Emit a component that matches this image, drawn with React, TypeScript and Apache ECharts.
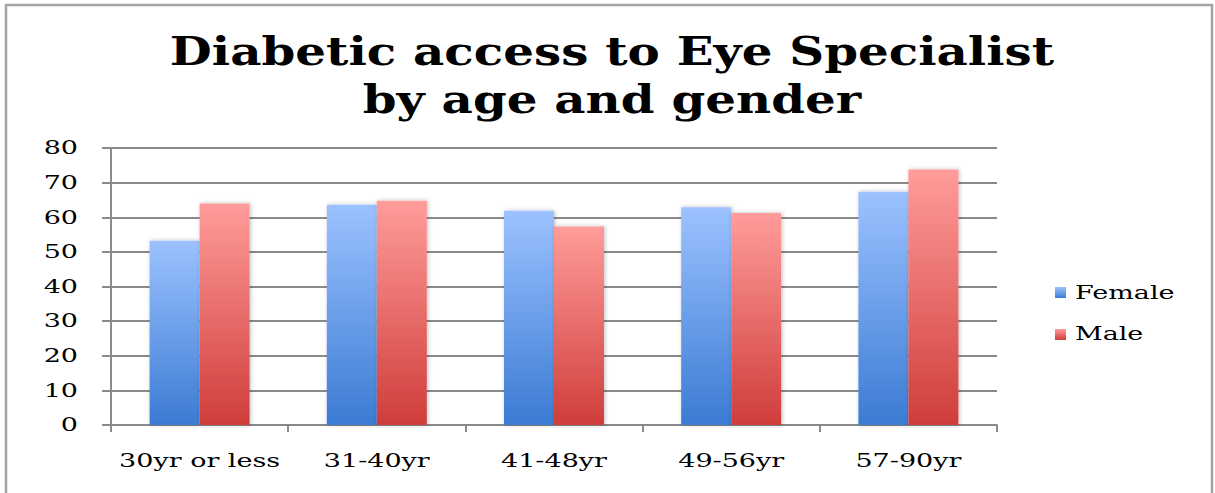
import React, { useEffect, useRef } from "react";
import * as echarts from "echarts";

const categories = ["30yr or less", "31-40yr", "41-48yr", "49-56yr", "57-90yr"];
const seriesNames = ["Female", "Male"];
const female = [53.2, 63.6, 61.9, 62.9, 67.4];
const male = [64.0, 64.8, 57.3, 61.2, 73.8];
const yTicks = [0, 10, 20, 30, 40, 50, 60, 70, 80];
const titleLines = ["Diabetic access to Eye Specialist", "by age and gender"];

export default function App() {
  const ref = useRef<HTMLDivElement>(null);
  useEffect(() => {
    const chart = echarts.init(ref.current!, null, { renderer: "svg" });
    const grad = (top: string, bottom: string) =>
      new echarts.graphic.LinearGradient(0, 0, 0, 1, [
        { offset: 0, color: top },
        { offset: 1, color: bottom },
      ]);
    const serif = "DejaVu Serif";
    const titleStyle = {
      font: `bold 39px "${serif}"`,
      fill: "#000",
      align: "center",
      verticalAlign: "middle",
    };
    const baseGraphic: any[] = [
      {
        type: "rect",
        shape: { x: 6, y: 5, width: 1206, height: 520 },
        style: { fill: "none", stroke: "#a3a3a3", lineWidth: 2.5 },
        silent: true,
      },
      {
        type: "text",
        x: 612,
        y: 51.5,
        scaleX: 1.24,
        style: { ...titleStyle, text: titleLines[0] },
      },
      {
        type: "text",
        x: 612,
        y: 99.5,
        scaleX: 1.24,
        style: { ...titleStyle, text: titleLines[1] },
      },
    ];
    chart.setOption({
      animation: false,
      backgroundColor: "#ffffff",
      graphic: baseGraphic,
      legend: {
        orient: "vertical",
        left: 1050,
        top: 282,
        itemWidth: 11,
        itemHeight: 11,
        itemGap: 31,
        icon: "rect",
        formatter: () => "",
        textStyle: { fontSize: 11 },
        data: seriesNames,
      },
      grid: { left: 111, right: 218, top: 148, bottom: 68 },
      xAxis: {
        type: "category",
        data: categories,
        axisLine: { lineStyle: { color: "#8a8a8a", width: 2 } },
        axisTick: { show: true, length: 7, lineStyle: { color: "#8a8a8a", width: 2 } },
        axisLabel: { show: false },
      },
      yAxis: {
        type: "value",
        min: 0,
        max: 80,
        interval: 10,
        axisLine: { show: true, lineStyle: { color: "#8a8a8a", width: 2 } },
        axisTick: { show: true, length: 9, lineStyle: { color: "#8a8a8a", width: 2 } },
        splitLine: { lineStyle: { color: "#8a8a8a", width: 2 } },
        axisLabel: { show: false },
      },
      series: [
        {
          name: seriesNames[0],
          type: "bar",
          data: female,
          barWidth: 50,
          barGap: "0%",
          itemStyle: {
            color: grad("#9cc2ff", "#3b7bd3"),
            shadowColor: "rgba(0,0,0,0.25)",
            shadowBlur: 4,
            shadowOffsetX: 1,
          },
        },
        {
          name: seriesNames[1],
          type: "bar",
          data: male,
          barWidth: 50,
          barGap: "0%",
          itemStyle: {
            color: grad("#ff9c9a", "#cf3d3a"),
            shadowColor: "rgba(0,0,0,0.25)",
            shadowBlur: 4,
            shadowOffsetX: 1,
          },
        },
      ],
    });

    const labelFont = `18px "${serif}"`;
    const stretch = 1.5;
    const xBase = chart.convertToPixel({ yAxisIndex: 0 }, 0) as number;
    const xLabels = categories.map((c) => ({
      type: "text",
      x: chart.convertToPixel({ xAxisIndex: 0 }, c) as number,
      y: xBase + 36,
      scaleX: stretch,
      silent: true,
      style: { text: c, font: labelFont, fill: "#000", align: "center", verticalAlign: "middle" },
    }));
    const axisLeft = 111;
    const yLabels = yTicks.map((v) => ({
      type: "text",
      x: axisLeft - 33,
      y: chart.convertToPixel({ yAxisIndex: 0 }, v) as number,
      scaleX: stretch,
      silent: true,
      style: { text: String(v), font: labelFont, fill: "#000", align: "right", verticalAlign: "middle" },
    }));
    const legendLabels = seriesNames.map((n, i) => ({
      type: "text",
      x: 1075,
      y: 293 + i * 41,
      scaleX: stretch,
      silent: true,
      style: { text: n, font: labelFont, fill: "#000", align: "left", verticalAlign: "middle" },
    }));
    chart.setOption({ graphic: [...baseGraphic, ...xLabels, ...yLabels, ...legendLabels] });
    return () => chart.dispose();
  }, []);
  return (
    <div
      ref={ref}
      style={{ position: "absolute", left: 0, top: 0, width: 1215, height: 493 }}
    />
  );
}
